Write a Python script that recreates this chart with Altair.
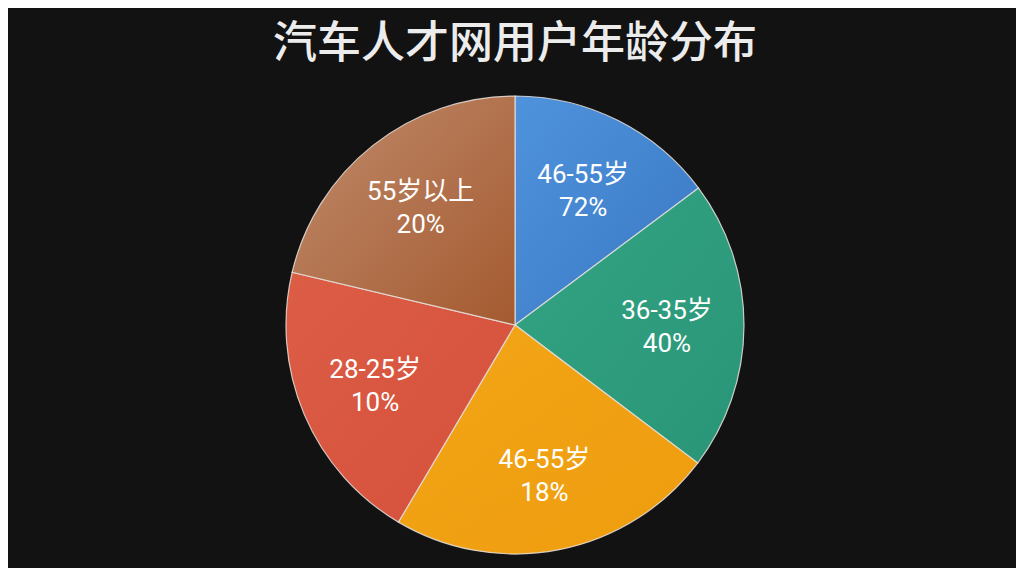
import altair as alt
import pandas as pd

# ---- data ----
age_groups = ["46-55岁", "36-35岁", "46-55岁", "28-25岁", "55岁以上"]
pct_labels = ["72%", "40%", "18%", "10%", "20%"]
# share of the circle each slice covers (percent of 360°)
slice_share = [14.8, 20.5, 23.2, 20.2, 21.3]
color_light = ["#4f93dc", "#32a483", "#f2a617", "#dc5d45", "#c08b6c"]
color_dark = ["#3a78c4", "#2a9578", "#ee9c0e", "#d5503c", "#a45a30"]
title_text = "汽车人才网用户年龄分布"

df = pd.DataFrame({
    "order": list(range(len(age_groups))),
    "group": age_groups,
    "pct": pct_labels,
    "share": slice_share,
})

W, H = 1008, 560
CX, CY, R = 507, 317, 229
BG = "#121212"

base = alt.Chart(df).transform_joinaggregate(
    total="sum(share)"
).transform_window(
    cum="sum(share)", sort=[alt.SortField("order")], frame=[None, 0]
).transform_calculate(
    start="(datum.cum - datum.share) / datum.total * 2 * PI",
    end="datum.cum / datum.total * 2 * PI",
    mid="(datum.cum - datum.share / 2) / datum.total * 2 * PI",
    label="datum.group + '\\n' + datum.pct",
)

layers = []
for i in range(len(age_groups)):
    grad = alt.LinearGradient(
        gradient="linear",
        stops=[alt.GradientStop(color=color_light[i], offset=0),
               alt.GradientStop(color=color_dark[i], offset=1)],
        x1=0, y1=0, x2=1, y2=1,
    )
    layers.append(
        base.transform_filter(f"datum.order == {i}").mark_arc(
            fill=grad, stroke="#e6e0da", strokeWidth=1.2, strokeOpacity=0.85,
        ).encode(
            theta=alt.Theta("start:Q", scale=None),
            theta2="end:Q",
            radius=alt.value(R),
            x=alt.value(CX),
            y=alt.value(CY),
        )
    )

labels = base.mark_text(
    font="Roboto, 'Noto Sans CJK SC'", fontSize=26, fontWeight="normal", color="#ffffff",
    lineBreak="\n", lineHeight=33, align="center", baseline="middle", dy=-14,
).encode(
    theta=alt.Theta("mid:Q", scale=None),
    radius=alt.value(152),
    x=alt.value(CX),
    y=alt.value(CY),
    text="label:N",
)

title = alt.Chart(pd.DataFrame({"t": [title_text]})).mark_text(
    font="Noto Sans CJK SC", fontSize=44, fontWeight=500, color="#ececec",
    align="center", baseline="middle",
).encode(
    x=alt.value(W / 2 + 3),
    y=alt.value(37),
    text="t:N",
)

chart = alt.layer(*layers, labels, title).properties(
    width=W, height=H,
    autosize=alt.AutoSizeParams(type="none"),
    padding=0,
    background=BG,
).configure_view(stroke=None)

chart.save("out.html", embed_options={"renderer": "svg", "actions": False})
